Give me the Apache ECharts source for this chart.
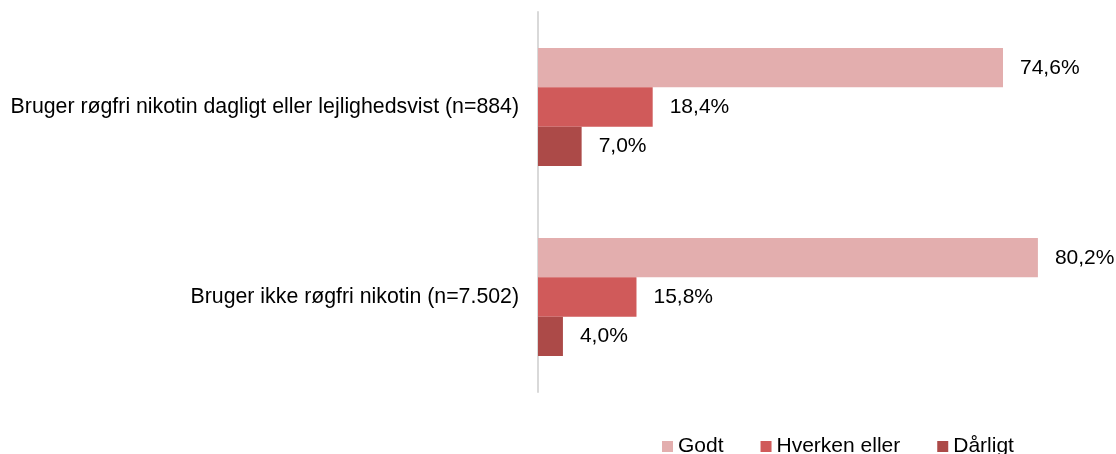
<!DOCTYPE html>
<html>
<head>
<meta charset="utf-8">
<script src="https://cdn.jsdelivr.net/npm/echarts@6/dist/echarts.min.js"></script>
<style>
html,body{margin:0;padding:0;background:#fff;}
#chart{width:1116px;height:454px;}
</style>
</head>
<body>
<div id="chart"></div>
<script>
const categories = ['Bruger røgfri nikotin dagligt eller lejlighedsvist (n=884)', 'Bruger ikke røgfri nikotin (n=7.502)'];
const seriesNames = ['Godt', 'Hverken eller', 'Dårligt'];
const godt = [74.6, 80.2];
const hverken = [18.4, 15.8];
const daarligt = [7.0, 4.0];
const colors = ['#E3AEAE', '#D05A5A', '#AC4A48'];

const font = 'Liberation Sans, Arial, sans-serif';
const chart = echarts.init(document.getElementById('chart'));
const mk = (name, data, color) => ({
  name: name,
  type: 'bar',
  data: data,
  barGap: '0%',
  barCategoryGap: '38%',
  itemStyle: { color: color },
  label: {
    show: true,
    position: 'right',
    distance: 17,
    color: '#000',
    fontFamily: font,
    fontSize: 21,
    formatter: p => p.value.toFixed(1).replace('.', ',') + '%'
  }
});
chart.setOption({
  animation: false,
  grid: { left: 538, right: 17, top: 12, bottom: 62, containLabel: false },
  legend: {
    top: 436,
    left: 662,
    padding: 0,
    itemWidth: 11,
    itemHeight: 11,
    itemGap: 37,
    icon: 'rect',
    textStyle: { fontFamily: font, fontSize: 21, color: '#000', padding: [0, 0, 0, 0] },
    data: seriesNames
  },
  xAxis: { type: 'value', min: 0, max: 90, show: false },
  yAxis: {
    type: 'category',
    data: categories,
    inverse: true,
    axisLine: { show: true, lineStyle: { color: '#D9D9D9', width: 2 } },
    axisTick: { show: false },
    axisLabel: { fontFamily: font, fontSize: 21.3, color: '#000', margin: 19 }
  },
  series: [mk(seriesNames[0], godt, colors[0]), mk(seriesNames[1], hverken, colors[1]), mk(seriesNames[2], daarligt, colors[2])]
});
</script>
</body>
</html>
